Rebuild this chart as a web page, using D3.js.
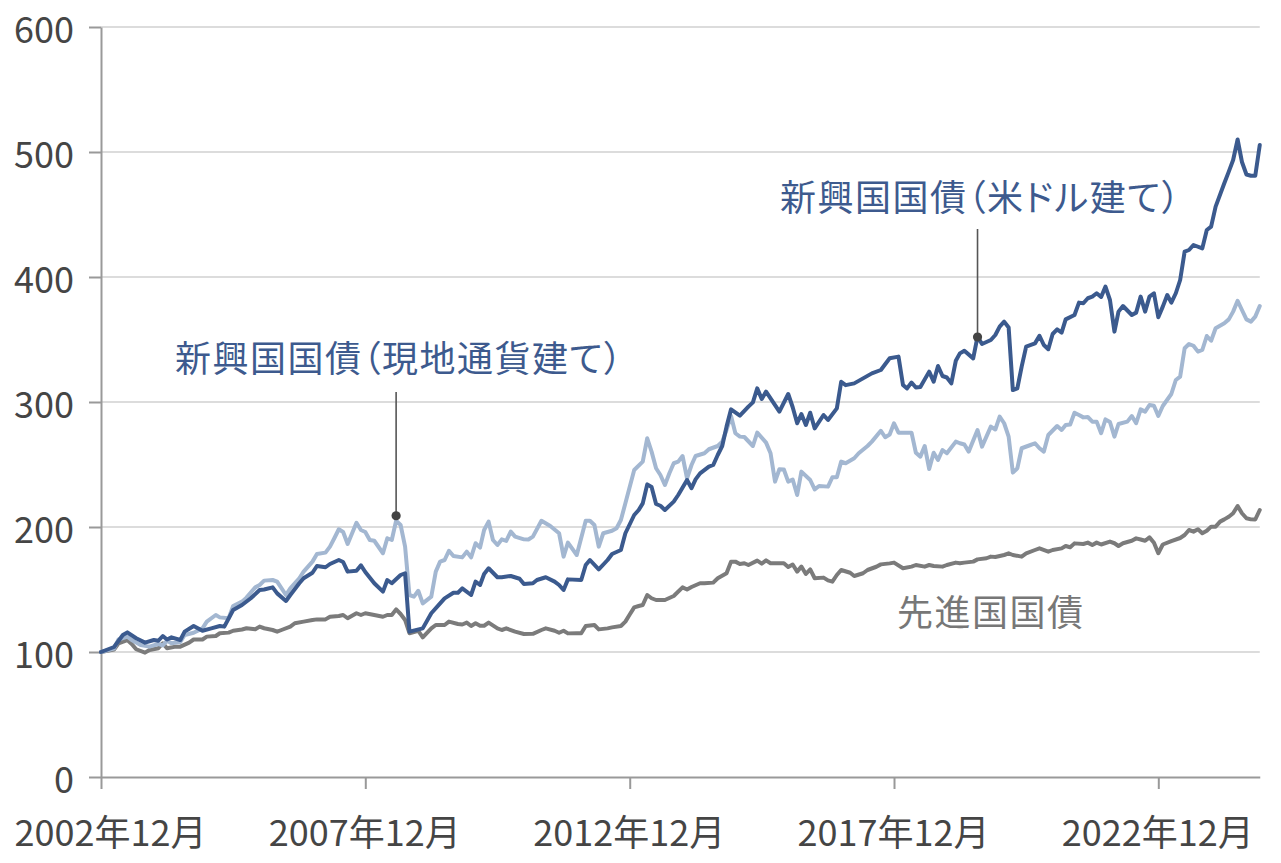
<!DOCTYPE html>
<html>
<head>
<meta charset="utf-8">
<script src="https://cdn.jsdelivr.net/npm/d3@7"></script>
<style>
  body { margin: 0; background: #fff; }
  text { font-family: "Noto Sans CJK JP", "Noto Sans", sans-serif; }
</style>
</head>
<body>
<script>
// 指数（2002年12月 = 100）、月末値をチャートから読み取り
const usdSeries = [
  ["2002-12",100],["2003-03",104],["2003-05",113.6],["2003-06",115.7],["2003-08",111],["2003-10",107.5],
  ["2003-12",109.6],["2004-01",109],["2004-02",112.8],["2004-03",110],["2004-04",111.7],["2004-06",109.6],
  ["2004-07",116.3],["2004-09",120.8],["2004-11",117],["2005-01",118.9],["2005-03",120.8],["2005-04",120.3],
  ["2005-06",133.6],["2005-08",137.6],["2005-10",143],["2005-12",149.6],["2006-01",150],["2006-03",151.7],
  ["2006-04",146.9],["2006-06",140.8],["2006-07",145.6],["2006-09",155],["2006-10",159],["2006-12",163.4],
  ["2007-01",168.8],["2007-03",167.8],["2007-04",170.4],["2007-06",173.6],["2007-07",172],["2007-08",164.3],
  ["2007-10",165],["2007-11",169.3],["2007-12",164],["2008-02",155],["2008-04",148.3],["2008-05",157.6],
  ["2008-06",155],["2008-08",161.6],["2008-09",163],["2008-10",116.3],["2009-01",118.9],["2009-03",131],
  ["2009-05",138.9],["2009-06",142.9],["2009-08",147.4],["2009-09",147.4],["2009-10",150.9],["2009-12",145.6],
  ["2010-01",156.3],["2010-02",153.6],["2010-03",162.4],["2010-04",167],["2010-06",159.8],["2010-07",159.8],
  ["2010-09",160.8],["2010-11",158.6],["2010-12",154.4],["2011-02",155],["2011-03",157.6],["2011-05",159.8],
  ["2011-07",156.3],["2011-08",153.6],["2011-09",149.6],["2011-10",158.1],["2012-01",157.6],["2012-02",169.6],
  ["2012-03",173.6],["2012-05",166.1],["2012-07",173.6],["2012-08",178.4],["2012-10",181.6],["2012-11",195],
  ["2013-01",209.6],["2013-02",213.6],["2013-03",218.9],["2013-04",234.1],["2013-05",232],["2013-06",218.4],
  ["2013-07",217],["2013-08",213.6],["2013-10",220.3],["2013-11",225.6],["2014-01",237.6],["2014-02",231],
  ["2014-03",238.1],["2014-04",242.9],["2014-06",248.3],["2014-07",249.6],["2014-08",257.6],["2014-09",264.8],
  ["2014-10",280.3],["2014-11",294.1],["2015-01",289.1],["2015-03",296.3],["2015-04",299.7],["2015-05",310.9],
  ["2015-06",302.4],["2015-07",308.3],["2015-10",292.3],["2015-12",306.4],["2016-01",295.8],["2016-02",283],
  ["2016-03",290.4],["2016-04",281.6],["2016-05",291.4],["2016-06",278.9],["2016-08",289.6],["2016-09",285.6],
  ["2016-11",294.9],["2016-12",316.2],["2017-01",313.5],["2017-03",314.9],["2017-05",318.9],["2017-07",322.9],
  ["2017-09",325.6],["2017-11",335],["2018-01",336.3],["2018-02",313.6],["2018-03",310.9],["2018-04",315.6],
  ["2018-05",311.6],["2018-06",312],["2018-08",324.3],["2018-09",316.3],["2018-10",328.8],["2018-11",320.8],
  ["2018-12",319.6],["2019-01",314.9],["2019-02",333],["2019-03",338.9],["2019-04",341],["2019-06",334.9],
  ["2019-07",352.3],["2019-08",346.4],["2019-10",349.6],["2019-11",353.6],["2019-12",360.3],["2020-01",364.3],
  ["2020-02",359.6],["2020-03",309.6],["2020-04",310.9],["2020-05",328.3],["2020-06",344.3],["2020-08",346.9],
  ["2020-09",353],["2020-10",345.6],["2020-11",342.2],["2020-12",354.4],["2021-01",358.1],["2021-02",355.5],
  ["2021-03",366.1],["2021-05",369.6],["2021-06",379.5],["2021-07",379],["2021-08",383],["2021-09",384.3],
  ["2021-10",387],["2021-11",384],["2021-12",392.3],["2022-01",381.6],["2022-02",356.3],["2022-03",372.3],
  ["2022-04",376.8],["2022-06",369.6],["2022-07",371.5],["2022-08",384.3],["2022-09",372.3],["2022-10",384.3],
  ["2022-11",387],["2022-12",367.8],["2023-01",376.3],["2023-02",385.6],["2023-03",379.5],["2023-04",387],
  ["2023-05",397.6],["2023-06",420.3],["2023-07",421.6],["2023-08",425.6],["2023-10",422.9],["2023-11",437.6],
  ["2023-12",440.3],["2024-01",456.3],["2024-03",475],["2024-04",484.3],["2024-05",493.6],["2024-06",510],
  ["2024-07",492],["2024-08",482],["2024-09",481],["2024-10",481],["2024-11",505.6]
];

const localSeries = [
  ["2002-12",100],["2003-03",102.7],["2003-04",110],["2003-06",112.3],["2003-07",109.6],["2003-09",105.6],
  ["2003-11",104.3],["2004-01",106.4],["2004-02",105.3],["2004-03",109],["2004-04",107],["2004-06",108],
  ["2004-07",113.6],["2004-09",115.4],["2004-11",118.9],["2004-12",124.3],["2005-02",129.6],["2005-03",127.7],
  ["2005-05",127],["2005-06",136.8],["2005-08",140.3],["2005-09",143.5],["2005-11",151.7],["2005-12",153.6],
  ["2006-01",157.1],["2006-03",157.6],["2006-04",156.3],["2006-06",145.6],["2006-07",151],["2006-09",159],
  ["2006-10",164.3],["2006-12",172.3],["2007-01",178.4],["2007-03",179.5],["2007-04",184.3],["2007-05",191],
  ["2007-06",198.2],["2007-07",196],["2007-08",186.4],["2007-10",203.4],["2007-11",197.6],["2007-12",196],
  ["2008-01",189.6],["2008-02",189],["2008-04",179],["2008-05",191],["2008-06",189.6],["2008-07",205],
  ["2008-08",201.6],["2008-09",184.3],["2008-10",145.6],["2008-11",144.3],["2008-12",149],["2009-01",138.9],
  ["2009-03",144.3],["2009-04",164.3],["2009-05",172.3],["2009-06",173.6],["2009-07",181],["2009-08",176.8],
  ["2009-10",175.7],["2009-11",180.3],["2009-12",175.7],["2010-01",187],["2010-02",183.5],["2010-03",197.6],
  ["2010-04",204.3],["2010-05",189.6],["2010-06",185.6],["2010-07",190.1],["2010-08",188.9],["2010-09",196.3],
  ["2010-10",192.3],["2010-12",190.1],["2011-01",190],["2011-02",192.3],["2011-04",205],["2011-06",200.8],
  ["2011-08",195],["2011-09",176.3],["2011-10",187.5],["2011-12",177.6],["2012-02",205],["2012-03",205],
  ["2012-04",201.6],["2012-05",184.3],["2012-06",195],["2012-08",197],["2012-09",199],["2012-10",205.6],
  ["2012-11",219],["2013-01",245.6],["2013-03",252.3],["2013-04",271],["2013-05",260.3],["2013-06",247],
  ["2013-07",241.6],["2013-08",233.6],["2013-09",243],["2013-10",251],["2013-11",252.3],["2013-12",256.8],
  ["2014-01",239],["2014-02",249.6],["2014-03",256.8],["2014-05",259],["2014-06",262.2],["2014-08",264.8],
  ["2014-09",268.3],["2014-10",277.6],["2014-11",288.8],["2014-12",275],["2015-01",272.3],["2015-02",272],
  ["2015-04",264.8],["2015-05",275.5],["2015-07",267.5],["2015-08",259],["2015-09",236.3],["2015-10",246.2],
  ["2015-11",246],["2015-12",236.3],["2016-01",238],["2016-02",225.6],["2016-03",244.3],["2016-05",237.6],
  ["2016-06",230.1],["2016-07",232.8],["2016-09",232.3],["2016-10",239.8],["2016-11",239.8],["2016-12",252.3],
  ["2017-01",251],["2017-03",255],["2017-04",259],["2017-06",264.8],["2017-07",268.3],["2017-09",277],
  ["2017-10",271.8],["2017-11",274],["2017-12",283],["2018-01",275.5],["2018-04",275.5],["2018-05",259.4],
  ["2018-06",256.3],["2018-07",264.8],["2018-08",246.4],["2018-09",259.4],["2018-10",253.6],["2018-11",261.6],
  ["2018-12",259],["2019-02",268.3],["2019-03",267],["2019-04",266],["2019-05",260.3],["2019-07",277.6],
  ["2019-08",264.3],["2019-10",280.3],["2019-11",278],["2019-12",288.3],["2020-01",283],["2020-02",272.3],
  ["2020-03",243.5],["2020-04",246.9],["2020-05",263],["2020-07",265.6],["2020-08",267],["2020-09",263],
  ["2020-10",260.3],["2020-11",273.6],["2021-01",280.8],["2021-02",277.6],["2021-03",281.6],["2021-04",282],
  ["2021-05",291.4],["2021-06",289.6],["2021-07",287.7],["2021-08",288],["2021-09",284.3],["2021-10",284.3],
  ["2021-11",275],["2021-12",286.1],["2022-01",284],["2022-02",272.3],["2022-03",282.4],["2022-05",284.3],
  ["2022-06",288.8],["2022-07",283],["2022-08",294.1],["2022-09",292.3],["2022-10",297.6],["2022-11",297],
  ["2022-12",288.8],["2023-01",296.8],["2023-03",306.4],["2023-04",317.6],["2023-05",320.3],["2023-06",343],
  ["2023-07",346.4],["2023-08",345],["2023-09",340.3],["2023-10",341.6],["2023-11",352.8],["2023-12",349],
  ["2024-01",359],["2024-03",363],["2024-04",366.1],["2024-05",372.3],["2024-06",381],["2024-07",373.6],
  ["2024-08",366.1],["2024-09",364.3],["2024-10",368.3],["2024-11",376.8]
];

const developedSeries = [
  ["2002-12",100],["2003-03",102],["2003-04",107],["2003-06",109.6],["2003-07",106.4],["2003-08",102.2],
  ["2003-10",99.5],["2003-11",101.6],["2004-01",103],["2004-02",107],["2004-03",103],["2004-05",104.3],
  ["2004-06",104.3],["2004-08",107.5],["2004-09",110],["2004-11",110],["2004-12",112.3],["2005-02",112.8],
  ["2005-03",115],["2005-05",115.5],["2005-06",117],["2005-08",118],["2005-09",119],["2005-11",118.2],
  ["2005-12",120.3],["2006-01",119],["2006-03",117.6],["2006-04",116.3],["2006-05",117.6],["2006-07",120.3],
  ["2006-08",123],["2006-10",124.3],["2006-12",125.6],["2007-01",126.1],["2007-03",126.1],["2007-04",128.2],
  ["2007-06",128.8],["2007-07",129.6],["2007-08",127],["2007-10",131],["2007-11",129.6],["2007-12",131],
  ["2008-02",129.6],["2008-04",128.2],["2008-05",129.6],["2008-06",129.6],["2008-07",134.1],["2008-08",130.4],
  ["2008-09",125.6],["2008-10",115],["2008-12",117],["2009-01",111.7],["2009-03",118.9],["2009-04",121.6],
  ["2009-06",121.6],["2009-07",124.3],["2009-09",122.4],["2009-10",122],["2009-11",123.5],["2009-12",120.8],
  ["2010-01",123],["2010-02",121],["2010-03",121],["2010-04",123.5],["2010-06",118.9],["2010-07",117.6],
  ["2010-08",118.9],["2010-10",116.3],["2010-12",114.4],["2011-02",114.5],["2011-04",117.6],["2011-05",118.9],
  ["2011-07",117],["2011-08",115.4],["2011-09",117],["2011-10",114.9],["2011-12",115],["2012-01",115],
  ["2012-02",120.8],["2012-04",121.6],["2012-05",118.1],["2012-07",118.9],["2012-08",119.7],["2012-10",120.8],
  ["2012-11",124.3],["2012-12",130],["2013-01",135.7],["2013-02",136.8],["2013-03",137.6],["2013-04",145.6],
  ["2013-05",143],["2013-06",141.6],["2013-08",141.6],["2013-10",144.8],["2013-12",151.7],["2014-01",150],
  ["2014-02",152],["2014-04",155],["2014-05",155],["2014-07",155.5],["2014-08",159],["2014-10",163],
  ["2014-11",172.3],["2014-12",172.3],["2015-01",170.4],["2015-02",171],["2015-03",169.6],["2015-05",173.1],
  ["2015-06",170.7],["2015-07",173.3],["2015-08",171],["2015-10",171],["2015-11",171],["2015-12",168],
  ["2016-01",170],["2016-02",164.3],["2016-03",168.4],["2016-04",162.4],["2016-05",166.1],["2016-06",159],
  ["2016-08",159.5],["2016-09",157.3],["2016-10",156.3],["2016-11",161.6],["2016-12",165.6],["2017-02",163.4],
  ["2017-03",160.8],["2017-05",163],["2017-06",165.6],["2017-08",168.2],["2017-09",170.1],["2017-11",170.9],
  ["2017-12",171.5],["2018-02",167],["2018-04",168.3],["2018-05",169.6],["2018-07",168.3],["2018-08",169.6],
  ["2018-09",168.8],["2018-11",168.3],["2018-12",169.6],["2019-02",171.5],["2019-03",171],["2019-04",171.5],
  ["2019-06",172.3],["2019-07",174.1],["2019-09",175],["2019-10",176.3],["2019-11",176],["2020-01",177.6],
  ["2020-02",178.9],["2020-03",177.6],["2020-05",176.3],["2020-06",178.9],["2020-08",181.6],["2020-09",182.9],
  ["2020-11",180.3],["2020-12",181.6],["2021-02",182.9],["2021-03",184.8],["2021-04",183.8],["2021-05",186.9],
  ["2021-07",186.4],["2021-08",187.5],["2021-09",185.6],["2021-10",187.5],["2021-11",186],["2022-01",188.3],
  ["2022-02",187],["2022-03",184.8],["2022-04",187],["2022-05",188],["2022-06",189],["2022-07",190.9],
  ["2022-08",190],["2022-09",189],["2022-10",191.7],["2022-11",187.4],["2022-12",179],["2023-01",186],
  ["2023-03",188.7],["2023-05",191.2],["2023-06",193.6],["2023-07",197.6],["2023-08",196.3],["2023-09",198.2],
  ["2023-10",195],["2023-11",197],["2023-12",200.3],["2024-01",200.3],["2024-02",204.3],["2024-03",206.1],
  ["2024-04",208.2],["2024-05",211],["2024-06",216.8],["2024-07",211],["2024-08",207],["2024-09",206.1],
  ["2024-10",206],["2024-11",213.6]
];

const seriesNames = ["新興国国債（米ドル建て）", "新興国国債（現地通貨建て）", "先進国国債"];
const yTicks = [0, 100, 200, 300, 400, 500, 600];
const xTickDates = ["2002-12", "2007-12", "2012-12", "2017-12", "2022-12"];
// 引き出し線の付く点（日付, 値）
const usdMarker = ["2019-07", 352];
const localMarker = ["2008-07", 209];

const W = 1281, H = 863;
const parse = d3.timeParse("%Y-%m");
const font = '"Noto Sans CJK JP", sans-serif';

const svg = d3.select("body").append("svg")
    .attr("width", W)
    .attr("height", H);

// 2002年12月〜2022年12月の目盛り位置に合わせ、最後のデータまで延長
const x0 = d3.scaleTime()
    .domain([parse("2002-12"), parse("2022-12")])
    .range([101, 1158.3]);
const lastDate = parse(usdSeries[usdSeries.length - 1][0]);
const x = d3.scaleTime()
    .domain([parse("2002-12"), lastDate])
    .range([101, x0(lastDate)]);

const y = d3.scaleLinear()
    .domain([0, 600])
    .range([777, 27]);

// grid
svg.append("g")
    .selectAll("line")
    .data(yTicks.filter(d => d > 0))
    .enter()
    .append("line")
    .attr("x1", x.range()[0])
    .attr("x2", x.range()[1])
    .attr("y1", d => y(d))
    .attr("y2", d => y(d))
    .attr("stroke", "#dcdcdc")
    .attr("stroke-width", 2);

// y axis
const yAxis = svg.append("g")
    .attr("transform", "translate(101,0)")
    .call(d3.axisLeft(y).tickValues(yTicks).tickSize(12).tickSizeOuter(0).tickPadding(15));
yAxis.select(".domain").attr("stroke", "#999").attr("stroke-width", 2);
yAxis.selectAll(".tick line").attr("stroke", "#999").attr("stroke-width", 2);
yAxis.selectAll(".tick text")
    .attr("dy", 15)
    .style("font-family", font)
    .style("font-size", "36px")
    .attr("fill", "#454545");

// x axis
const xAxis = svg.append("g")
    .attr("transform", "translate(0,777)")
    .call(d3.axisBottom(x)
        .tickValues(xTickDates.map(parse))
        .tickSize(12)
        .tickSizeOuter(0)
        .tickFormat(d3.timeFormat("%Y年%-m月")));
xAxis.select(".domain").attr("stroke", "#999").attr("stroke-width", 2);
xAxis.selectAll(".tick line").attr("stroke", "#999").attr("stroke-width", 2);
xAxis.selectAll(".tick text")
    .attr("y", 69)
    .attr("dy", 0)
    .attr("x", (d, i) => i === 0 ? 9 : -1)
    .style("font-family", font)
    .style("font-size", "36px")
    .attr("fill", "#454545");

// lines
const line = d3.line()
    .x(d => x(parse(d[0])))
    .y(d => y(d[1]));

const lines = [
    { data: developedSeries, color: "#7b7b7b" },
    { data: localSeries, color: "#a3b7d1" },
    { data: usdSeries, color: "#3b5a8e" }
];

svg.selectAll("path.series")
    .data(lines)
    .enter()
    .append("path")
    .attr("class", "series")
    .attr("d", d => line(d.data))
    .attr("fill", "none")
    .attr("stroke", d => d.color)
    .attr("stroke-width", 4)
    .attr("stroke-linejoin", "round")
    .attr("stroke-linecap", "round");

// annotations
function callout(marker, topY) {
    const cx = x(parse(marker[0]));
    const cy = y(marker[1]);
    svg.append("line")
        .attr("x1", cx).attr("x2", cx)
        .attr("y1", topY).attr("y2", cy)
        .attr("stroke", "#555")
        .attr("stroke-width", 1.6);
    svg.append("circle")
        .attr("cx", cx).attr("cy", cy)
        .attr("r", 4.6)
        .attr("fill", "#444");
}
callout(localMarker, 392);
callout(usdMarker, 229);

function label(text, lx, ly, color) {
    svg.append("text")
        .attr("x", lx)
        .attr("y", ly)
        .attr("fill", color)
        .style("font-family", font)
        .style("font-size", "36px")
        .style("letter-spacing", "1.5px")
        .style("font-feature-settings", '"palt" 1')
        .text(text);
}
label(seriesNames[0], 780, 211, "#3d5a8e");
label(seriesNames[1], 175, 372, "#3d5a8e");
label(seriesNames[2], 897, 626, "#777");
</script>
</body>
</html>
